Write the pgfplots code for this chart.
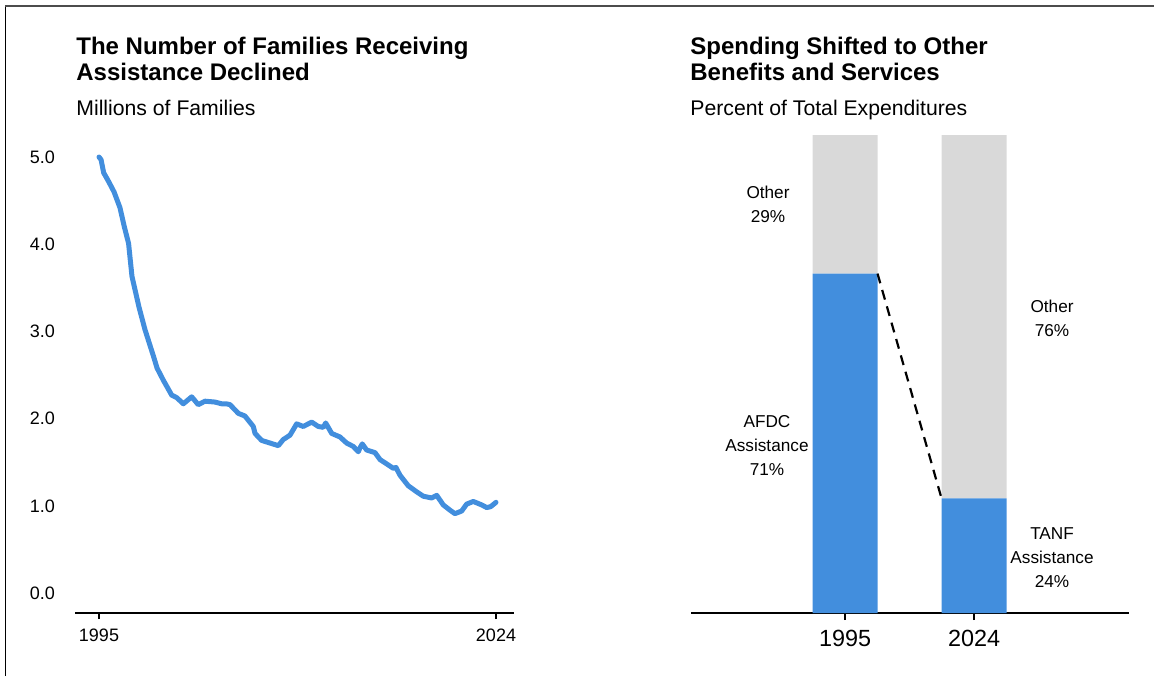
\documentclass[border=0pt]{standalone}
\usepackage{pgfplots}
\pgfplotsset{compat=1.18}
\usepackage{fontspec}
\setmainfont{Liberation Sans}

\definecolor{tanfblue}{RGB}{66,142,221}
\definecolor{othergray}{RGB}{217,217,217}

\newcommand{\titlefont}{\fontsize{12}{13}\bfseries\selectfont}
\newcommand{\subfont}{\fontsize{10.6}{12}\selectfont}
\newcommand{\barlabfont}{\fontsize{8.6}{12}\selectfont}

\begin{document}
\begin{tikzpicture}
% 1 px of the reference = 0.5pt, y measured from the bottom
\path[use as bounding box] (0pt,0pt) rectangle (577pt,338pt);
\draw[black, line width=0.8pt] (2.75pt,0pt) -- (2.75pt,334.75pt);
\draw[black!70, line width=1pt] (2.5pt,334.75pt) -- (577pt,334.75pt);

% titles
\node[anchor=base west, inner sep=0pt, font=\titlefont] at (38pt,310.75pt) {The Number of Families Receiving};
\node[anchor=base west, inner sep=0pt, font=\titlefont] at (38pt,297.75pt) {Assistance Declined};
\node[anchor=base west, inner sep=0pt, font=\subfont] at (38pt,280.25pt) {Millions of Families};
\node[anchor=base west, inner sep=0pt, font=\titlefont] at (345pt,310.75pt) {Spending Shifted to Other};
\node[anchor=base west, inner sep=0pt, font=\titlefont] at (345pt,297.75pt) {Benefits and Services};
\node[anchor=base west, inner sep=0pt, font=\subfont] at (345pt,280.25pt) {Percent of Total Expenditures};

% left panel: caseload
\begin{axis}[
    at={(37.5pt,31.5pt)}, anchor=south west,
    scale only axis, width=219.5pt, height=236.7pt,
    xmin=1993.247, xmax=2025.315, ymin=-0.2294, ymax=5.2,
    axis x line=bottom, axis y line=left,
    axis line style={-},
    x axis line style={line width=1.25pt},
    y axis line style={draw=none},
    xtick={1995,2024}, xticklabels={1995,2024},
    ytick={0,1,2,3,4,5},
    /pgf/number format/fixed,
    /pgf/number format/fixed zerofill,
    /pgf/number format/precision=1,
    /pgf/number format/assume math mode=true,
    tick label style={font=\fontsize{9}{10}\selectfont, black},
    yticklabel style={xshift=-3.5pt},
    xticklabel style={yshift=-1.5pt},
    ytick style={draw=none},
    xtick style={line width=1.25pt, black},
    tick align=outside, major tick length=3pt,
    clip=false,
]
\addplot[color=tanfblue, line width=2.5pt, line join=round, line cap=round] coordinates {
(1995.00,5.00) (1995.15,4.97) (1995.34,4.82) (1995.70,4.72) (1996.10,4.60)
(1996.53,4.42) (1996.85,4.20) (1997.16,4.01) (1997.41,3.63) (1997.92,3.28)
(1998.36,3.02) (1998.99,2.71) (1999.24,2.58) (1999.70,2.44) (2000.31,2.27)
(2000.68,2.24) (2001.16,2.17) (2001.77,2.25) (2002.25,2.16) (2002.74,2.20)
(2003.47,2.19) (2003.96,2.17) (2004.30,2.17) (2004.57,2.16) (2005.18,2.06)
(2005.66,2.03) (2006.27,1.91) (2006.40,1.83) (2006.88,1.75) (2007.49,1.72)
(2008.10,1.69) (2008.46,1.76) (2008.95,1.81) (2009.44,1.94) (2009.92,1.91)
(2010.54,1.96) (2011.02,1.91) (2011.38,1.90) (2011.56,1.95) (2012.00,1.83)
(2012.60,1.79) (2013.09,1.72) (2013.58,1.68) (2013.94,1.62) (2014.05,1.66)
(2014.23,1.71) (2014.55,1.64) (2015.16,1.61) (2015.53,1.53) (2016.02,1.48)
(2016.50,1.43) (2016.69,1.44) (2016.99,1.35) (2017.59,1.23) (2018.21,1.16)
(2018.69,1.11) (2019.30,1.09) (2019.67,1.12) (2020.15,1.01) (2020.64,0.95)
(2021.00,0.91) (2021.49,0.94) (2021.86,1.02) (2022.34,1.05) (2022.96,1.01)
(2023.32,0.98) (2023.61,0.99) (2024.00,1.04)
};
\end{axis}

% right panel: stacked shares
\begin{axis}[
    at={(345.5pt,31.5pt)}, anchor=south west,
    scale only axis, width=219pt, height=239pt,
    xmin=-1.194, xmax=2.2016, ymin=0, ymax=100,
    ybar stacked, bar width=0.504,
    axis x line=bottom, axis y line=none,
    axis line style={-},
    x axis line style={line width=1.25pt},
    xtick={0,1}, xticklabels={1995,2024},
    tick label style={font=\fontsize{11.7}{13}\selectfont, black},
    xticklabel style={yshift=-1.5pt},
    xtick style={line width=1.25pt, black},
    tick align=outside, major tick length=3.5pt,
    ytick=\empty,
]
\addplot[fill=tanfblue, draw=none] coordinates {(0,71) (1,24)};
\addplot[fill=othergray, draw=none] coordinates {(0,29) (1,76)};
\end{axis}

% right panel overlay: connector and labels
\begin{axis}[
    at={(345.5pt,31.5pt)}, anchor=south west,
    scale only axis, width=219pt, height=239pt,
    xmin=-1.194, xmax=2.2016, ymin=0, ymax=100,
    hide axis, clip=false,
]
\addplot[black, line width=1.1pt, dash pattern=on 5pt off 3.5pt] coordinates {(0.252,71) (0.748,24)};
\node[align=center, font=\barlabfont] at (axis cs:-0.597,85.4) {Other\\29\%};
\node[align=center, font=\barlabfont] at (axis cs:-0.605,35.1) {AFDC\\Assistance\\71\%};
\node[align=center, font=\barlabfont] at (axis cs:1.605,61.6) {Other\\76\%};
\node[align=center, font=\barlabfont] at (axis cs:1.605,11.5) {TANF\\Assistance\\24\%};
\end{axis}
\end{tikzpicture}
\end{document}
